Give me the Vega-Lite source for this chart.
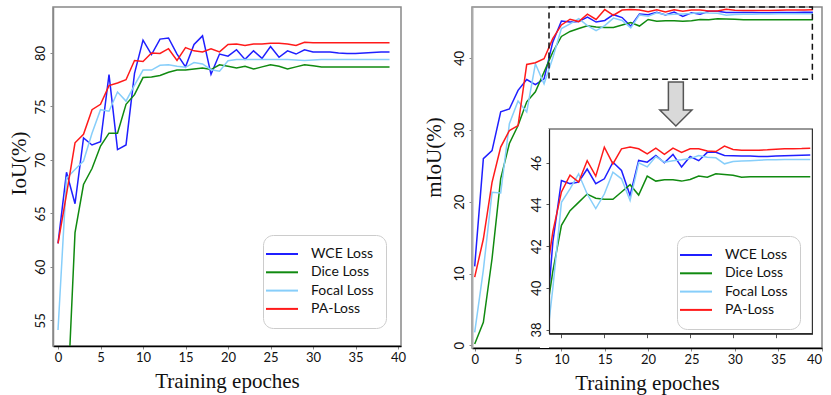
{
"$schema": "https://vega.github.io/schema/vega-lite/v6.json",
"background": "white",
"padding": {"left": 7, "top": 5, "right": 3, "bottom": 5},
"config": {
 "view": {"stroke": "#888", "strokeWidth": 1.5},
 "axis": {"grid": false, "labelFont": "Lato", "labelFontSize": 13, "labelColor": "#111", "tickSize": 3, "tickColor": "#888", "titleFont": "Liberation Serif", "titleFontSize": 21, "titleFontWeight": "normal", "titleColor": "#111"},
 "axisX": {"domainColor": "#000", "domainWidth": 1.5, "labelPadding": 2, "titlePadding": 6, "labelAngle": 0},
 "axisY": {"domainColor": "#888", "domainWidth": 1.5, "labelAngle": 270, "labelAlign": "center", "labelBaseline": "bottom", "labelPadding": 3, "titleBaseline": "middle"},
 "legend": {"orient": "none", "title": null, "symbolType": "M -4 0 L 4 0", "symbolSize": 64, "symbolStrokeWidth": 2, "labelFont": "Lato", "labelFontSize": 14, "labelColor": "#111", "labelOffset": 22, "rowPadding": 4.3, "padding": 12, "strokeColor": "#ccc", "cornerRadius": 10, "fillColor": "white"}
},
"datasets": {"d": [
{"e":0,"s":"WCE Loss","iou":62.2,"miou":11.0},
{"e":1,"s":"WCE Loss","iou":68.85,"miou":26.0},
{"e":2,"s":"WCE Loss","iou":65.9,"miou":27.1},
{"e":3,"s":"WCE Loss","iou":72.06,"miou":32.5},
{"e":4,"s":"WCE Loss","iou":71.4,"miou":32.9},
{"e":5,"s":"WCE Loss","iou":71.7,"miou":35.5},
{"e":6,"s":"WCE Loss","iou":77.97,"miou":37.0},
{"e":7,"s":"WCE Loss","iou":70.97,"miou":36.3},
{"e":8,"s":"WCE Loss","iou":71.4,"miou":37.1},
{"e":9,"s":"WCE Loss","iou":78.1,"miou":42.2},
{"e":10,"s":"WCE Loss","iou":81.2,"miou":45.15},
{"e":11,"s":"WCE Loss","iou":79.85,"miou":45.0},
{"e":12,"s":"WCE Loss","iou":81.3,"miou":45.07},
{"e":13,"s":"WCE Loss","iou":81.4,"miou":45.7},
{"e":14,"s":"WCE Loss","iou":79.9,"miou":45.0},
{"e":15,"s":"WCE Loss","iou":78.7,"miou":45.23},
{"e":16,"s":"WCE Loss","iou":80.8,"miou":46.03},
{"e":17,"s":"WCE Loss","iou":81.6,"miou":45.63},
{"e":18,"s":"WCE Loss","iou":78.0,"miou":44.43},
{"e":19,"s":"WCE Loss","iou":79.9,"miou":46.11},
{"e":20,"s":"WCE Loss","iou":79.7,"miou":46.03},
{"e":21,"s":"WCE Loss","iou":80.3,"miou":46.35},
{"e":22,"s":"WCE Loss","iou":79.4,"miou":46.0},
{"e":23,"s":"WCE Loss","iou":80.2,"miou":46.4},
{"e":24,"s":"WCE Loss","iou":79.5,"miou":45.8},
{"e":25,"s":"WCE Loss","iou":80.6,"miou":46.3},
{"e":26,"s":"WCE Loss","iou":79.6,"miou":46.1},
{"e":27,"s":"WCE Loss","iou":80.2,"miou":46.5},
{"e":28,"s":"WCE Loss","iou":79.9,"miou":46.5},
{"e":29,"s":"WCE Loss","iou":80.3,"miou":46.35},
{"e":30,"s":"WCE Loss","iou":80.1,"miou":46.34},
{"e":31,"s":"WCE Loss","iou":80.1,"miou":46.33},
{"e":32,"s":"WCE Loss","iou":80.1,"miou":46.32},
{"e":33,"s":"WCE Loss","iou":80.0,"miou":46.3},
{"e":34,"s":"WCE Loss","iou":79.95,"miou":46.3},
{"e":35,"s":"WCE Loss","iou":79.95,"miou":46.32},
{"e":36,"s":"WCE Loss","iou":80.0,"miou":46.34},
{"e":37,"s":"WCE Loss","iou":80.05,"miou":46.35},
{"e":38,"s":"WCE Loss","iou":80.1,"miou":46.36},
{"e":39,"s":"WCE Loss","iou":80.1,"miou":46.37},
{"e":0,"s":"Dice Loss","iou":40.0,"miou":0.2},
{"e":1,"s":"Dice Loss","iou":45.5,"miou":3.2},
{"e":2,"s":"Dice Loss","iou":63.2,"miou":12.05},
{"e":3,"s":"Dice Loss","iou":67.7,"miou":23.2},
{"e":4,"s":"Dice Loss","iou":69.2,"miou":28.1},
{"e":5,"s":"Dice Loss","iou":71.3,"miou":30.6},
{"e":6,"s":"Dice Loss","iou":72.5,"miou":33.9},
{"e":7,"s":"Dice Loss","iou":72.5,"miou":35.3},
{"e":8,"s":"Dice Loss","iou":75.2,"miou":38.05},
{"e":9,"s":"Dice Loss","iou":76.1,"miou":40.8},
{"e":10,"s":"Dice Loss","iou":77.7,"miou":43.0},
{"e":11,"s":"Dice Loss","iou":77.75,"miou":43.7},
{"e":12,"s":"Dice Loss","iou":77.9,"miou":44.1},
{"e":13,"s":"Dice Loss","iou":78.2,"miou":44.5},
{"e":14,"s":"Dice Loss","iou":78.4,"miou":44.3},
{"e":15,"s":"Dice Loss","iou":78.4,"miou":44.25},
{"e":16,"s":"Dice Loss","iou":78.5,"miou":44.25},
{"e":17,"s":"Dice Loss","iou":78.6,"miou":44.6},
{"e":18,"s":"Dice Loss","iou":78.45,"miou":44.95},
{"e":19,"s":"Dice Loss","iou":78.9,"miou":44.45},
{"e":20,"s":"Dice Loss","iou":78.75,"miou":45.36},
{"e":21,"s":"Dice Loss","iou":78.6,"miou":45.12},
{"e":22,"s":"Dice Loss","iou":78.75,"miou":45.18},
{"e":23,"s":"Dice Loss","iou":78.5,"miou":45.18},
{"e":24,"s":"Dice Loss","iou":78.7,"miou":45.12},
{"e":25,"s":"Dice Loss","iou":78.9,"miou":45.2},
{"e":26,"s":"Dice Loss","iou":78.75,"miou":45.36},
{"e":27,"s":"Dice Loss","iou":78.5,"miou":45.31},
{"e":28,"s":"Dice Loss","iou":78.7,"miou":45.47},
{"e":29,"s":"Dice Loss","iou":78.9,"miou":45.44},
{"e":30,"s":"Dice Loss","iou":78.8,"miou":45.4},
{"e":31,"s":"Dice Loss","iou":78.7,"miou":45.31},
{"e":32,"s":"Dice Loss","iou":78.7,"miou":45.33},
{"e":33,"s":"Dice Loss","iou":78.7,"miou":45.33},
{"e":34,"s":"Dice Loss","iou":78.7,"miou":45.33},
{"e":35,"s":"Dice Loss","iou":78.7,"miou":45.33},
{"e":36,"s":"Dice Loss","iou":78.7,"miou":45.33},
{"e":37,"s":"Dice Loss","iou":78.7,"miou":45.33},
{"e":38,"s":"Dice Loss","iou":78.7,"miou":45.33},
{"e":39,"s":"Dice Loss","iou":78.7,"miou":45.33},
{"e":0,"s":"Focal Loss","iou":54.1,"miou":1.8},
{"e":1,"s":"Focal Loss","iou":68.3,"miou":10.5},
{"e":2,"s":"Focal Loss","iou":69.1,"miou":21.3},
{"e":3,"s":"Focal Loss","iou":69.9,"miou":21.2},
{"e":4,"s":"Focal Loss","iou":72.5,"miou":30.85},
{"e":5,"s":"Focal Loss","iou":74.7,"miou":34.0},
{"e":6,"s":"Focal Loss","iou":74.55,"miou":32.5},
{"e":7,"s":"Focal Loss","iou":76.35,"miou":39.2},
{"e":8,"s":"Focal Loss","iou":75.5,"miou":36.4},
{"e":9,"s":"Focal Loss","iou":77.0,"miou":40.0},
{"e":10,"s":"Focal Loss","iou":78.4,"miou":44.1},
{"e":11,"s":"Focal Loss","iou":78.4,"miou":44.75},
{"e":12,"s":"Focal Loss","iou":78.85,"miou":45.47},
{"e":13,"s":"Focal Loss","iou":78.9,"miou":44.5},
{"e":14,"s":"Focal Loss","iou":78.75,"miou":43.8},
{"e":15,"s":"Focal Loss","iou":78.66,"miou":44.5},
{"e":16,"s":"Focal Loss","iou":79.1,"miou":45.55},
{"e":17,"s":"Focal Loss","iou":78.97,"miou":45.23},
{"e":18,"s":"Focal Loss","iou":78.44,"miou":44.19},
{"e":19,"s":"Focal Loss","iou":78.29,"miou":46.0},
{"e":20,"s":"Focal Loss","iou":79.28,"miou":45.8},
{"e":21,"s":"Focal Loss","iou":79.4,"miou":46.3},
{"e":22,"s":"Focal Loss","iou":79.4,"miou":46.03},
{"e":23,"s":"Focal Loss","iou":79.4,"miou":46.1},
{"e":24,"s":"Focal Loss","iou":79.4,"miou":46.14},
{"e":25,"s":"Focal Loss","iou":79.4,"miou":46.2},
{"e":26,"s":"Focal Loss","iou":79.4,"miou":46.35},
{"e":27,"s":"Focal Loss","iou":79.4,"miou":46.27},
{"e":28,"s":"Focal Loss","iou":79.35,"miou":46.24},
{"e":29,"s":"Focal Loss","iou":79.3,"miou":45.95},
{"e":30,"s":"Focal Loss","iou":79.35,"miou":46.06},
{"e":31,"s":"Focal Loss","iou":79.4,"miou":46.08},
{"e":32,"s":"Focal Loss","iou":79.4,"miou":46.1},
{"e":33,"s":"Focal Loss","iou":79.4,"miou":46.12},
{"e":34,"s":"Focal Loss","iou":79.4,"miou":46.14},
{"e":35,"s":"Focal Loss","iou":79.4,"miou":46.15},
{"e":36,"s":"Focal Loss","iou":79.4,"miou":46.16},
{"e":37,"s":"Focal Loss","iou":79.4,"miou":46.16},
{"e":38,"s":"Focal Loss","iou":79.4,"miou":46.16},
{"e":39,"s":"Focal Loss","iou":79.4,"miou":46.16},
{"e":0,"s":"PA-Loss","iou":62.2,"miou":9.5},
{"e":1,"s":"PA-Loss","iou":66.8,"miou":14.8},
{"e":2,"s":"PA-Loss","iou":71.6,"miou":22.7},
{"e":3,"s":"PA-Loss","iou":72.4,"miou":27.6},
{"e":4,"s":"PA-Loss","iou":74.7,"miou":29.9},
{"e":5,"s":"PA-Loss","iou":75.2,"miou":30.6},
{"e":6,"s":"PA-Loss","iou":76.95,"miou":39.1},
{"e":7,"s":"PA-Loss","iou":77.2,"miou":39.35},
{"e":8,"s":"PA-Loss","iou":77.5,"miou":39.9},
{"e":9,"s":"PA-Loss","iou":79.3,"miou":42.7},
{"e":10,"s":"PA-Loss","iou":79.2,"miou":44.6},
{"e":11,"s":"PA-Loss","iou":80.0,"miou":45.4},
{"e":12,"s":"PA-Loss","iou":79.95,"miou":45.07},
{"e":13,"s":"PA-Loss","iou":80.4,"miou":46.1},
{"e":14,"s":"PA-Loss","iou":79.3,"miou":45.36},
{"e":15,"s":"PA-Loss","iou":80.5,"miou":46.75},
{"e":16,"s":"PA-Loss","iou":80.2,"miou":45.95},
{"e":17,"s":"PA-Loss","iou":80.1,"miou":46.67},
{"e":18,"s":"PA-Loss","iou":80.4,"miou":46.75},
{"e":19,"s":"PA-Loss","iou":80.1,"miou":46.67},
{"e":20,"s":"PA-Loss","iou":80.8,"miou":46.43},
{"e":21,"s":"PA-Loss","iou":80.85,"miou":46.7},
{"e":22,"s":"PA-Loss","iou":80.7,"miou":46.4},
{"e":23,"s":"PA-Loss","iou":80.85,"miou":46.7},
{"e":24,"s":"PA-Loss","iou":80.85,"miou":46.5},
{"e":25,"s":"PA-Loss","iou":80.9,"miou":46.67},
{"e":26,"s":"PA-Loss","iou":80.9,"miou":46.67},
{"e":27,"s":"PA-Loss","iou":80.85,"miou":46.56},
{"e":28,"s":"PA-Loss","iou":80.7,"miou":46.54},
{"e":29,"s":"PA-Loss","iou":81.0,"miou":46.8},
{"e":30,"s":"PA-Loss","iou":80.95,"miou":46.64},
{"e":31,"s":"PA-Loss","iou":80.95,"miou":46.6},
{"e":32,"s":"PA-Loss","iou":80.95,"miou":46.6},
{"e":33,"s":"PA-Loss","iou":80.95,"miou":46.6},
{"e":34,"s":"PA-Loss","iou":80.95,"miou":46.62},
{"e":35,"s":"PA-Loss","iou":80.95,"miou":46.65},
{"e":36,"s":"PA-Loss","iou":80.95,"miou":46.67},
{"e":37,"s":"PA-Loss","iou":80.95,"miou":46.67},
{"e":38,"s":"PA-Loss","iou":80.95,"miou":46.68},
{"e":39,"s":"PA-Loss","iou":80.95,"miou":46.7}
]},
"spacing": 15,
"resolve": {"scale": {"color": "independent"}},
"hconcat": [
 {
  "width": 348, "height": 339,
  "data": {"name": "d"},
  "mark": {"type": "line", "clip": true, "strokeWidth": 1.5},
  "encoding": {
   "x": {"field": "e", "type": "quantitative", "scale": {"domain": [-0.59, 40.35], "nice": false, "zero": false}, "axis": {"values": [0,5,10,15,20,25,30,35,40], "title": "Training epoches"}},
   "y": {"field": "iou", "type": "quantitative", "scale": {"domain": [52.6, 84.3], "nice": false, "zero": false}, "axis": {"values": [55,60,65,70,75,80], "title": "IoU(%)", "titleX": -34, "titleY": 156}},
   "color": {"field": "s", "type": "nominal", "scale": {"domain": ["WCE Loss","Dice Loss","Focal Loss","PA-Loss"], "range": ["#1f1fff","#108a10","#87cefa","#ff1a1a"]}, "legend": {"legendX": 210, "legendY": 228}},
   "order": {"field": "e", "type": "quantitative"}
  }
 },
 {
  "width": 350, "height": 341,
  "data": {"name": "d"},
  "resolve": {"scale": {"x": "independent", "y": "independent"}},
  "layer": [
   {
    "layer": [
     {
      "mark": {"type": "line", "clip": true, "strokeWidth": 1.5},
      "encoding": {
       "x": {"field": "e", "type": "quantitative", "scale": {"domain": [-0.31, 40.05], "nice": false, "zero": false}, "axis": {"values": [0,5,10,15,20,25,30,35,40], "title": "Training epoches"}},
       "y": {"field": "miou", "type": "quantitative", "scale": {"domain": [-0.37, 47.1], "nice": false, "zero": false}, "axis": {"values": [0,10,20,30,40], "title": "mIoU(%)", "titleX": -38, "titleY": 150, "domainColor": "#aaa", "domainWidth": 2}},
       "color": {"field": "s", "type": "nominal", "scale": {"domain": ["WCE Loss","Dice Loss","Focal Loss","PA-Loss"], "range": ["#1f1fff","#108a10","#87cefa","#ff1a1a"]}, "legend": {"legendX": 205, "legendY": 229}},
       "order": {"field": "e", "type": "quantitative"}
      }
     },
     {
      "data": {"values": [{}]},
      "mark": {"type": "rect", "fill": "white", "fillOpacity": 0, "stroke": "#111", "strokeWidth": 1.5, "strokeDash": [6, 4]},
      "encoding": {
       "x": {"datum": 8.57, "type": "quantitative"},
       "x2": {"datum": 38.94},
       "y": {"datum": 37.03, "type": "quantitative"},
       "y2": {"datum": 47.1}
      }
     },
     {
      "data": {"values": [{}]},
      "mark": {"type": "point", "shape": "M -0.34 -1 L 0.34 -1 L 0.34 0.27 L 0.73 0.27 L 0 1 L -0.73 0.27 L -0.34 0.27 Z", "size": 1936, "filled": true, "fill": "#d9d9d9", "stroke": "#555", "strokeWidth": 1.5, "opacity": 1},
      "encoding": {
       "x": {"datum": 23.2, "type": "quantitative"},
       "y": {"datum": 33.6, "type": "quantitative"}
      }
     }
    ]
   },
   {
    "layer": [
     {
      "data": {"values": [{}]},
      "mark": {"type": "rect", "fill": "white", "stroke": "#333", "strokeWidth": 1.2},
      "encoding": {
       "x": {"datum": 8.55, "type": "quantitative", "scale": {"domain": [8.55, 39.25], "range": [77, 340.4], "nice": false, "zero": false}, "axis": {"orient": "bottom", "offset": -14.3, "values": [10,15,20,25,30,35], "labels": false, "title": null, "domainColor": "#222", "domainWidth": 1.2, "tickColor": "#555", "tickSize": 4, "zindex": 1}},
       "x2": {"datum": 39.25},
       "y": {"datum": 37.8, "type": "quantitative", "scale": {"domain": [37.8, 47.62], "range": [326.7, 122], "nice": false, "zero": false}, "axis": {"orient": "left", "offset": -77, "values": [38,40,42,44,46], "title": null, "domainColor": "#222", "domainWidth": 1.2, "tickColor": "#555", "zindex": 1}},
       "y2": {"datum": 47.62}
      }
     },
     {
      "transform": [{"filter": "datum.e >= 8"}],
      "mark": {"type": "line", "clip": true, "strokeWidth": 1.5},
      "encoding": {
       "x": {"field": "e", "type": "quantitative", "scale": {"domain": [8.55, 39.25], "range": [77, 340.4], "nice": false, "zero": false}, "axis": {"orient": "bottom", "offset": -14.3, "values": [10,15,20,25,30,35], "labels": false, "title": null, "domainColor": "#222", "domainWidth": 1.2, "tickColor": "#555", "tickSize": 4, "zindex": 1}},
       "y": {"field": "miou", "type": "quantitative", "scale": {"domain": [37.8, 47.62], "range": [326.7, 122], "nice": false, "zero": false}, "axis": {"orient": "left", "offset": -77, "values": [38,40,42,44,46], "title": null, "domainColor": "#222", "domainWidth": 1.2, "tickColor": "#555", "zindex": 1}},
       "color": {"field": "s", "type": "nominal", "scale": {"domain": ["WCE Loss","Dice Loss","Focal Loss","PA-Loss"], "range": ["#1f1fff","#108a10","#87cefa","#ff1a1a"]}, "legend": {"legendX": 205, "legendY": 229}},
       "order": {"field": "e", "type": "quantitative"}
      }
     },
     {
      "data": {"values": [{}]},
      "mark": {"type": "rect", "fill": "white", "strokeWidth": 0, "clip": true},
      "encoding": {
       "x": {"datum": 7.5, "type": "quantitative"},
       "x2": {"datum": 8.55},
       "y": {"datum": 33, "type": "quantitative"},
       "y2": {"datum": 47.62}
      }
     }
    ]
   }
  ]
 }
]
}
